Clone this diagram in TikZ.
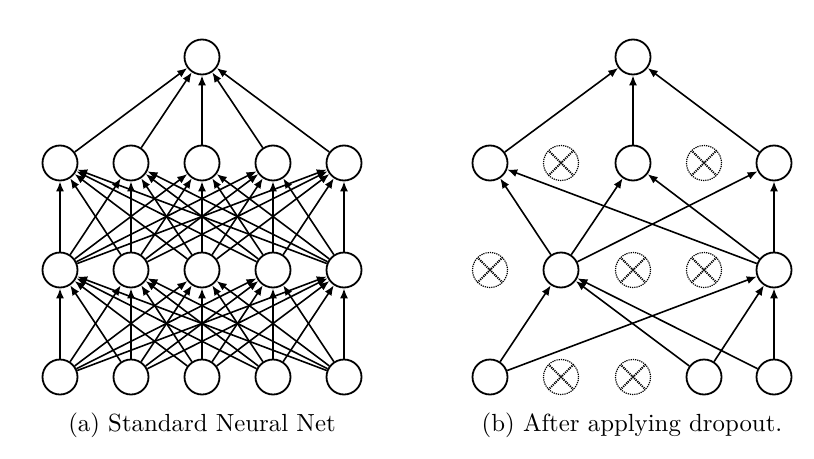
\documentclass[tikz,border=0pt]{standalone}
\usetikzlibrary{arrows.meta}
\begin{document}
\begin{tikzpicture}[x=1pt,y=-1pt,
  neuron/.style={circle,draw,line width=1.8pt,minimum size=35pt,inner sep=0pt},
  dropped/.style={circle,draw,densely dotted,line width=1.2pt,minimum size=35pt,inner sep=0pt,
    path picture={\draw[line width=1.8pt]
      (path picture bounding box.north west) -- (path picture bounding box.south east)
      (path picture bounding box.north east) -- (path picture bounding box.south west);}},
  conn/.style={-{Latex[length=10pt,width=8pt]},line width=1.6pt},
  caption/.style={inner sep=0pt,font=\fontsize{10}{12}\selectfont}]
\useasboundingbox (0,0) rectangle (814,458);
% ---------- (a) standard net ----------
\node[neuron] (at) at (202,57) {};
\foreach \i/\x in {1/60,2/131,3/202,4/273,5/344}{
  \node[neuron] (a2\i) at (\x,163) {};
  \node[neuron] (a3\i) at (\x,270) {};
  \node[neuron] (a4\i) at (\x,377) {};
}
\foreach \i in {1,...,5}{
  \draw[conn] (a2\i) -- (at);
  \foreach \j in {1,...,5}{
    \draw[conn] (a3\i) -- (a2\j);
    \draw[conn] (a4\i) -- (a3\j);
  }
}
% ---------- (b) dropout ----------
\node[neuron] (bt) at (633,57) {};
\node[neuron]  (b21) at (490,163) {};
\node[dropped] (b22) at (561,163) {};
\node[neuron]  (b23) at (633,163) {};
\node[dropped] (b24) at (704,163) {};
\node[neuron]  (b25) at (774,163) {};
\node[dropped] (b31) at (490,270) {};
\node[neuron]  (b32) at (561,270) {};
\node[dropped] (b33) at (633,270) {};
\node[dropped] (b34) at (704,270) {};
\node[neuron]  (b35) at (774,270) {};
\node[neuron]  (b41) at (490,377) {};
\node[dropped] (b42) at (561,377) {};
\node[dropped] (b43) at (633,377) {};
\node[neuron]  (b44) at (704,377) {};
\node[neuron]  (b45) at (774,377) {};
\foreach \s in {b21,b23,b25} \draw[conn] (\s) -- (bt);
\draw[conn] (b32) -- (b21);
\draw[conn] (b32) -- (b23);
\draw[conn] (b32) -- (b25);
\draw[conn] (b35) -- (b21);
\draw[conn] (b35) -- (b23);
\draw[conn] (b35) -- (b25);
\draw[conn] (b41) -- (b32);
\draw[conn] (b41) -- (b35);
\draw[conn] (b44) -- (b32);
\draw[conn] (b45) -- (b32);
\draw[conn] (b44) -- (b35);
\draw[conn] (b45) -- (b35);
% ---------- captions ----------
\node[caption] (capa) at (202,425) {\scalebox{2.48}{(a) Standard Neural Net}};
\node[caption] (capb) at (632,425) {\scalebox{2.48}{(b) After applying dropout.}};
\end{tikzpicture}
\end{document}
